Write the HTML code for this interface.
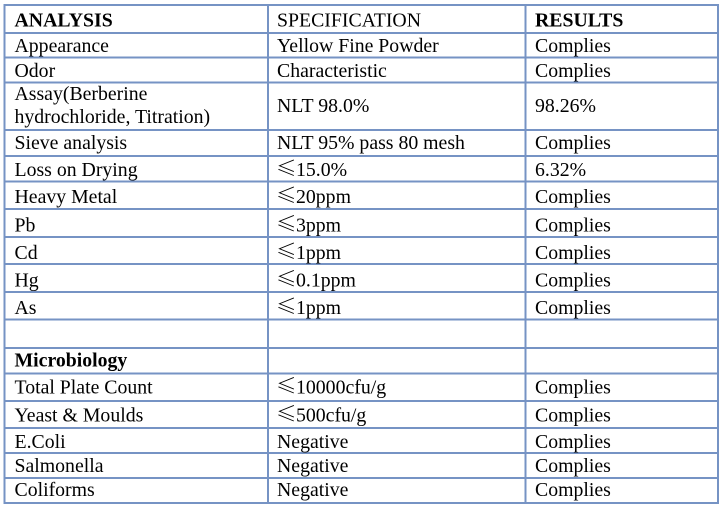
<!DOCTYPE html>
<html>
<head>
<meta charset="utf-8">
<style>
html,body{margin:0;padding:0;background:#fff;}
svg{display:block;}
text{font-family:"Liberation Serif","Noto Serif CJK SC",serif;font-size:19.8px;fill:#000;}
.b{font-weight:bold;}
.le{font-family:"Noto Serif CJK SC","Liberation Serif",serif;font-size:20.5px;}
</style>
</head>
<body>
<svg width="724" height="510" viewBox="0 0 724 510" xmlns="http://www.w3.org/2000/svg">
<rect width="724" height="510" fill="#fff"/>
<g stroke="#7693c4" stroke-width="2" fill="none">
<line x1="4" y1="5" x2="719" y2="5"/>
<line x1="4" y1="33" x2="719" y2="33"/>
<line x1="4" y1="57.5" x2="719" y2="57.5"/>
<line x1="4" y1="82.5" x2="719" y2="82.5"/>
<line x1="4" y1="130" x2="719" y2="130"/>
<line x1="4" y1="156" x2="719" y2="156"/>
<line x1="4" y1="181.5" x2="719" y2="181.5"/>
<line x1="4" y1="209" x2="719" y2="209"/>
<line x1="4" y1="237" x2="719" y2="237"/>
<line x1="4" y1="264" x2="719" y2="264"/>
<line x1="4" y1="292" x2="719" y2="292"/>
<line x1="4" y1="319.5" x2="719" y2="319.5"/>
<line x1="4" y1="348" x2="719" y2="348"/>
<line x1="4" y1="373.5" x2="719" y2="373.5"/>
<line x1="4" y1="401" x2="719" y2="401"/>
<line x1="4" y1="428" x2="719" y2="428"/>
<line x1="4" y1="453" x2="719" y2="453"/>
<line x1="4" y1="478" x2="719" y2="478"/>
<line x1="4" y1="503" x2="719" y2="503"/>
<line x1="4.5" y1="4" x2="4.5" y2="504"/>
<line x1="268" y1="4" x2="268" y2="504"/>
<line x1="525.5" y1="4" x2="525.5" y2="504"/>
<line x1="718" y1="4" x2="718" y2="504"/>
</g>

<text x="14.5" y="26.5" class="b">ANALYSIS</text>
<text x="277" y="26.5">SPECIFICATION</text>
<text x="535" y="26.5" class="b">RESULTS</text>

<text x="14.5" y="52">Appearance</text>
<text x="277" y="52">Yellow Fine Powder</text>
<text x="535" y="52">Complies</text>

<text x="14.5" y="77">Odor</text>
<text x="277" y="77">Characteristic</text>
<text x="535" y="77">Complies</text>

<text x="14.5" y="100">Assay(Berberine</text>
<text x="14.5" y="123">hydrochloride, Titration)</text>
<text x="277" y="112">NLT 98.0%</text>
<text x="535" y="112">98.26%</text>

<text x="14.5" y="149">Sieve analysis</text>
<text x="277" y="149">NLT 95% pass 80 mesh</text>
<text x="535" y="149">Complies</text>

<text x="14.5" y="176">Loss on Drying</text>
<text x="276" y="175.5" class="le">≤</text><text x="296" y="176">15.0%</text>
<text x="535" y="176">6.32%</text>

<text x="14.5" y="203">Heavy Metal</text>
<text x="276" y="202.5" class="le">≤</text><text x="296" y="203">20ppm</text>
<text x="535" y="203">Complies</text>

<text x="14.5" y="231.5">Pb</text>
<text x="276" y="231" class="le">≤</text><text x="296" y="231.5">3ppm</text>
<text x="535" y="231.5">Complies</text>

<text x="14.5" y="259">Cd</text>
<text x="276" y="258.5" class="le">≤</text><text x="296" y="259">1ppm</text>
<text x="535" y="259">Complies</text>

<text x="14.5" y="286.5">Hg</text>
<text x="276" y="286" class="le">≤</text><text x="296" y="286.5">0.1ppm</text>
<text x="535" y="286.5">Complies</text>

<text x="14.5" y="314">As</text>
<text x="276" y="313.5" class="le">≤</text><text x="296" y="314">1ppm</text>
<text x="535" y="314">Complies</text>

<text x="14.5" y="366.5" class="b">Microbiology</text>

<text x="14.5" y="393.5">Total Plate Count</text>
<text x="276" y="393" class="le">≤</text><text x="296" y="393.5">10000cfu/g</text>
<text x="535" y="393.5">Complies</text>

<text x="14.5" y="421.5">Yeast &amp; Moulds</text>
<text x="276" y="421" class="le">≤</text><text x="296" y="421.5">500cfu/g</text>
<text x="535" y="421.5">Complies</text>

<text x="14.5" y="448">E.Coli</text>
<text x="277" y="448">Negative</text>
<text x="535" y="448">Complies</text>

<text x="14.5" y="472">Salmonella</text>
<text x="277" y="472">Negative</text>
<text x="535" y="472">Complies</text>

<text x="14.5" y="496">Coliforms</text>
<text x="277" y="496">Negative</text>
<text x="535" y="496">Complies</text>
</svg>
</body>
</html>
